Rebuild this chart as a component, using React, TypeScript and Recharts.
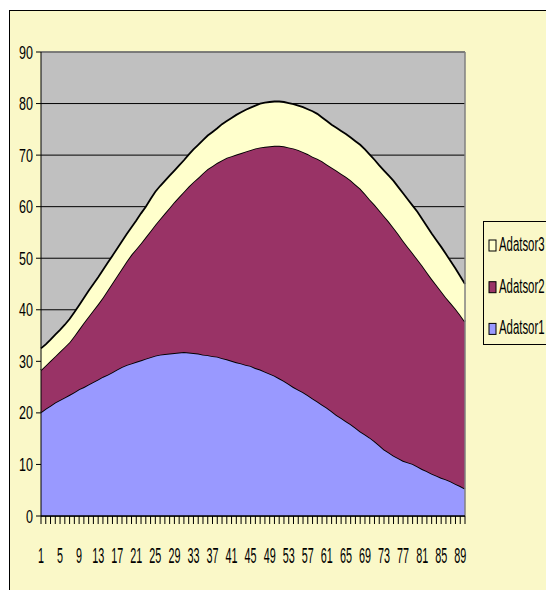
import React from 'react';
import { AreaChart, Area, XAxis, YAxis, CartesianGrid, Legend, ReferenceLine } from 'recharts';

const categories = [
  1, 2, 3, 4, 5, 6, 7, 8, 9, 10, 11, 12, 13, 14, 15, 16, 17, 18, 19, 20,
  21, 22, 23, 24, 25, 26, 27, 28, 29, 30, 31, 32, 33, 34, 35, 36, 37, 38, 39, 40,
  41, 42, 43, 44, 45, 46, 47, 48, 49, 50, 51, 52, 53, 54, 55, 56, 57, 58, 59, 60,
  61, 62, 63, 64, 65, 66, 67, 68, 69, 70, 71, 72, 73, 74, 75, 76, 77, 78, 79, 80,
  81, 82, 83, 84, 85, 86, 87, 88, 89, 90,
];

const adatsor1 = [
  20.1, 20.8, 21.4, 22.0, 22.5, 23.0, 23.5, 24.0, 24.6, 25.0,
  25.5, 26.0, 26.5, 27.0, 27.4, 27.9, 28.4, 28.9, 29.3, 29.6,
  29.9, 30.2, 30.5, 30.8, 31.1, 31.3, 31.4, 31.5, 31.6, 31.7,
  31.8, 31.7, 31.6, 31.5, 31.3, 31.2, 31.0, 30.9, 30.6, 30.4,
  30.1, 29.8, 29.6, 29.3, 29.1, 28.7, 28.4, 28.0, 27.6, 27.2,
  26.7, 26.2, 25.6, 25.0, 24.5, 24.0, 23.4, 22.8, 22.2, 21.6,
  21.0, 20.3, 19.6, 19.0, 18.4, 17.8, 17.1, 16.4, 15.8, 15.2,
  14.5, 13.7, 12.9, 12.3, 11.7, 11.2, 10.7, 10.4, 10.1, 9.6,
  9.1, 8.7, 8.2, 7.8, 7.4, 7.1, 6.7, 6.2, 5.8, 5.3,
];

const adatsor2 = [
  8.2, 8.4, 8.7, 9.0, 9.4, 9.8, 10.2, 10.9, 11.6, 12.5,
  13.2, 13.9, 14.6, 15.4, 16.4, 17.3, 18.2, 19.1, 20.1, 21.1,
  21.9, 22.7, 23.6, 24.5, 25.4, 26.3, 27.3, 28.3, 29.3, 30.2,
  31.1, 32.2, 33.2, 34.1, 35.2, 36.1, 36.9, 37.6, 38.4, 39.1,
  39.7, 40.3, 40.8, 41.4, 41.9, 42.6, 43.1, 43.6, 44.1, 44.6,
  45.1, 45.5, 45.9, 46.3, 46.5, 46.6, 46.8, 46.9, 47.1, 47.2,
  47.2, 47.3, 47.4, 47.4, 47.4, 47.3, 47.2, 47.1, 46.7, 46.2,
  45.9, 45.6, 45.3, 44.8, 44.2, 43.5, 42.7, 41.8, 40.9, 40.2,
  39.5, 38.6, 37.8, 37.0, 36.2, 35.3, 34.6, 34.0, 33.2, 32.4,
];

const adatsor3 = [
  4.2, 4.1, 4.1, 4.2, 4.2, 4.3, 4.5, 4.6, 4.7, 4.8,
  5.0, 5.1, 5.2, 5.3, 5.3, 5.3, 5.3, 5.3, 5.3, 5.3,
  5.5, 5.8, 5.9, 6.2, 6.4, 6.4, 6.3, 6.2, 6.1, 6.1,
  6.1, 6.2, 6.3, 6.4, 6.4, 6.5, 6.6, 6.7, 7.0, 7.1,
  7.4, 7.7, 7.9, 8.1, 8.2, 8.3, 8.5, 8.6, 8.6, 8.6,
  8.6, 8.6, 8.6, 8.6, 8.6, 8.7, 8.7, 8.8, 8.7, 8.5,
  8.4, 8.3, 8.3, 8.3, 8.3, 8.3, 8.4, 8.5, 8.6, 8.7,
  8.7, 8.7, 8.8, 8.9, 9.1, 9.1, 9.2, 9.2, 9.2, 9.2,
  9.0, 8.9, 8.8, 8.7, 8.6, 8.4, 8.1, 7.8, 7.5, 7.3,
];

const yTicks = [0, 10, 20, 30, 40, 50, 60, 70, 80, 90];
const xTickLabels = [1, 5, 9, 13, 17, 21, 25, 29, 33, 37, 41, 45, 49, 53, 57, 61, 65, 69, 73, 77, 81, 85, 89];
const seriesNames = ['Adatsor1', 'Adatsor2', 'Adatsor3'];
const seriesColors = ['#9999FF', '#993366', '#FFFFCC'];

const data = categories.map((c, i) => ({
  cat: c,
  a1: adatsor1[i],
  a2: adatsor2[i],
  a3: adatsor3[i],
}));

const FONT = "'Liberation Sans', Arial, Helvetica, sans-serif";

const XTick = (props: any) => {
  const { x, y, payload } = props;
  const show = xTickLabels.includes(payload.value);
  return (
    <g>
      <line x1={x} x2={x} y1={y} y2={y + 8} stroke="#000" strokeWidth={1} />
      {show && (
        <text
          transform={`translate(${x},${y + 47}) scale(1,2)`}
          textAnchor="middle"
          fontSize={10.8}
          fontFamily={FONT}
          fill="#000"
        >
          {payload.value}
        </text>
      )}
    </g>
  );
};

const YTick = (props: any) => {
  const { x, y, payload } = props;
  return (
    <text
      transform={`translate(${x},${y + 6.5}) scale(1,1.45)`}
      textAnchor="end"
      fontSize={12.5}
      fontFamily={FONT}
      fill="#000"
    >
      {payload.value}
    </text>
  );
};

const renderLegend = () => {
  const order = [2, 1, 0];
  return (
    <div
      style={{
        width: 90,
        height: 124,
        border: '1px solid #000',
        boxSizing: 'border-box',
      }}
    >
      <svg width={90} height={122} style={{ display: 'block' }}>
        {order.map((si, k) => {
          const base = 29 + k * 41.7;
          return (
            <g key={seriesNames[si]}>
              <rect x={5} y={base - 11} width={7} height={11} fill={seriesColors[si]} stroke="#000" strokeWidth={1} />
              <text
                transform={`translate(15,${base}) scale(1,1.8)`}
                fontSize={11.4}
                fontFamily={FONT}
                fill="#000"
              >
                {seriesNames[si]}
              </text>
            </g>
          );
        })}
      </svg>
    </div>
  );
};

export default function App() {
  return (
    <div
      style={{
        position: 'absolute',
        left: 0,
        top: 0,
        width: 546,
        height: 590,
        overflow: 'hidden',
        background: '#FFFFFF',
      }}
    >
      <div
        style={{
          position: 'absolute',
          left: 9,
          top: 10,
          width: 600,
          height: 600,
          background: '#FAF8C8',
          border: '1px solid #000',
        }}
      />
      <div style={{ position: 'absolute', left: 0, top: 0 }}>
        <AreaChart
          width={546}
          height={590}
          data={data}
          margin={{ top: 52, right: 81, bottom: 14, left: 0 }}
        >
          <CartesianGrid
            vertical={false}
            horizontal={true}
            stroke="#000"
            strokeWidth={1}
            fill="#C0C0C0"
            fillOpacity={1}
          />
          <XAxis
            dataKey="cat"
            interval={0}
            height={60}
            tickLine={false}
            tickSize={0}
            tickMargin={0}
            tick={<XTick />}
            axisLine={{ stroke: '#000', strokeWidth: 1.5 }}
          />
          <YAxis
            width={41}
            domain={[0, 90]}
            ticks={yTicks}
            interval={0}
            tickSize={5}
            tickMargin={3}
            tickLine={{ stroke: '#000' }}
            axisLine={{ stroke: '#000' }}
            tick={<YTick />}
          />
          <Area
            type="linear"
            dataKey="a1"
            name={seriesNames[0]}
            stackId="1"
            fill={seriesColors[0]}
            fillOpacity={1}
            stroke="#000"
            strokeWidth={1.8}
            isAnimationActive={false}
          />
          <Area
            type="linear"
            dataKey="a2"
            name={seriesNames[1]}
            stackId="1"
            fill={seriesColors[1]}
            fillOpacity={1}
            stroke="#000"
            strokeWidth={1.8}
            isAnimationActive={false}
          />
          <Area
            type="linear"
            dataKey="a3"
            name={seriesNames[2]}
            stackId="1"
            fill={seriesColors[2]}
            fillOpacity={1}
            stroke="#000"
            strokeWidth={1.8}
            isAnimationActive={false}
          />
          <ReferenceLine y={90} stroke="#808080" strokeWidth={1.5} />
          <ReferenceLine x={90} stroke="#808080" strokeWidth={1.5} />
          <Legend
            layout="horizontal"
            align="center"
            verticalAlign="middle"
            content={renderLegend}
            wrapperStyle={{ position: 'absolute', left: 483, top: 221, width: 90, height: 124 }}
          />
        </AreaChart>
      </div>
    </div>
  );
}
